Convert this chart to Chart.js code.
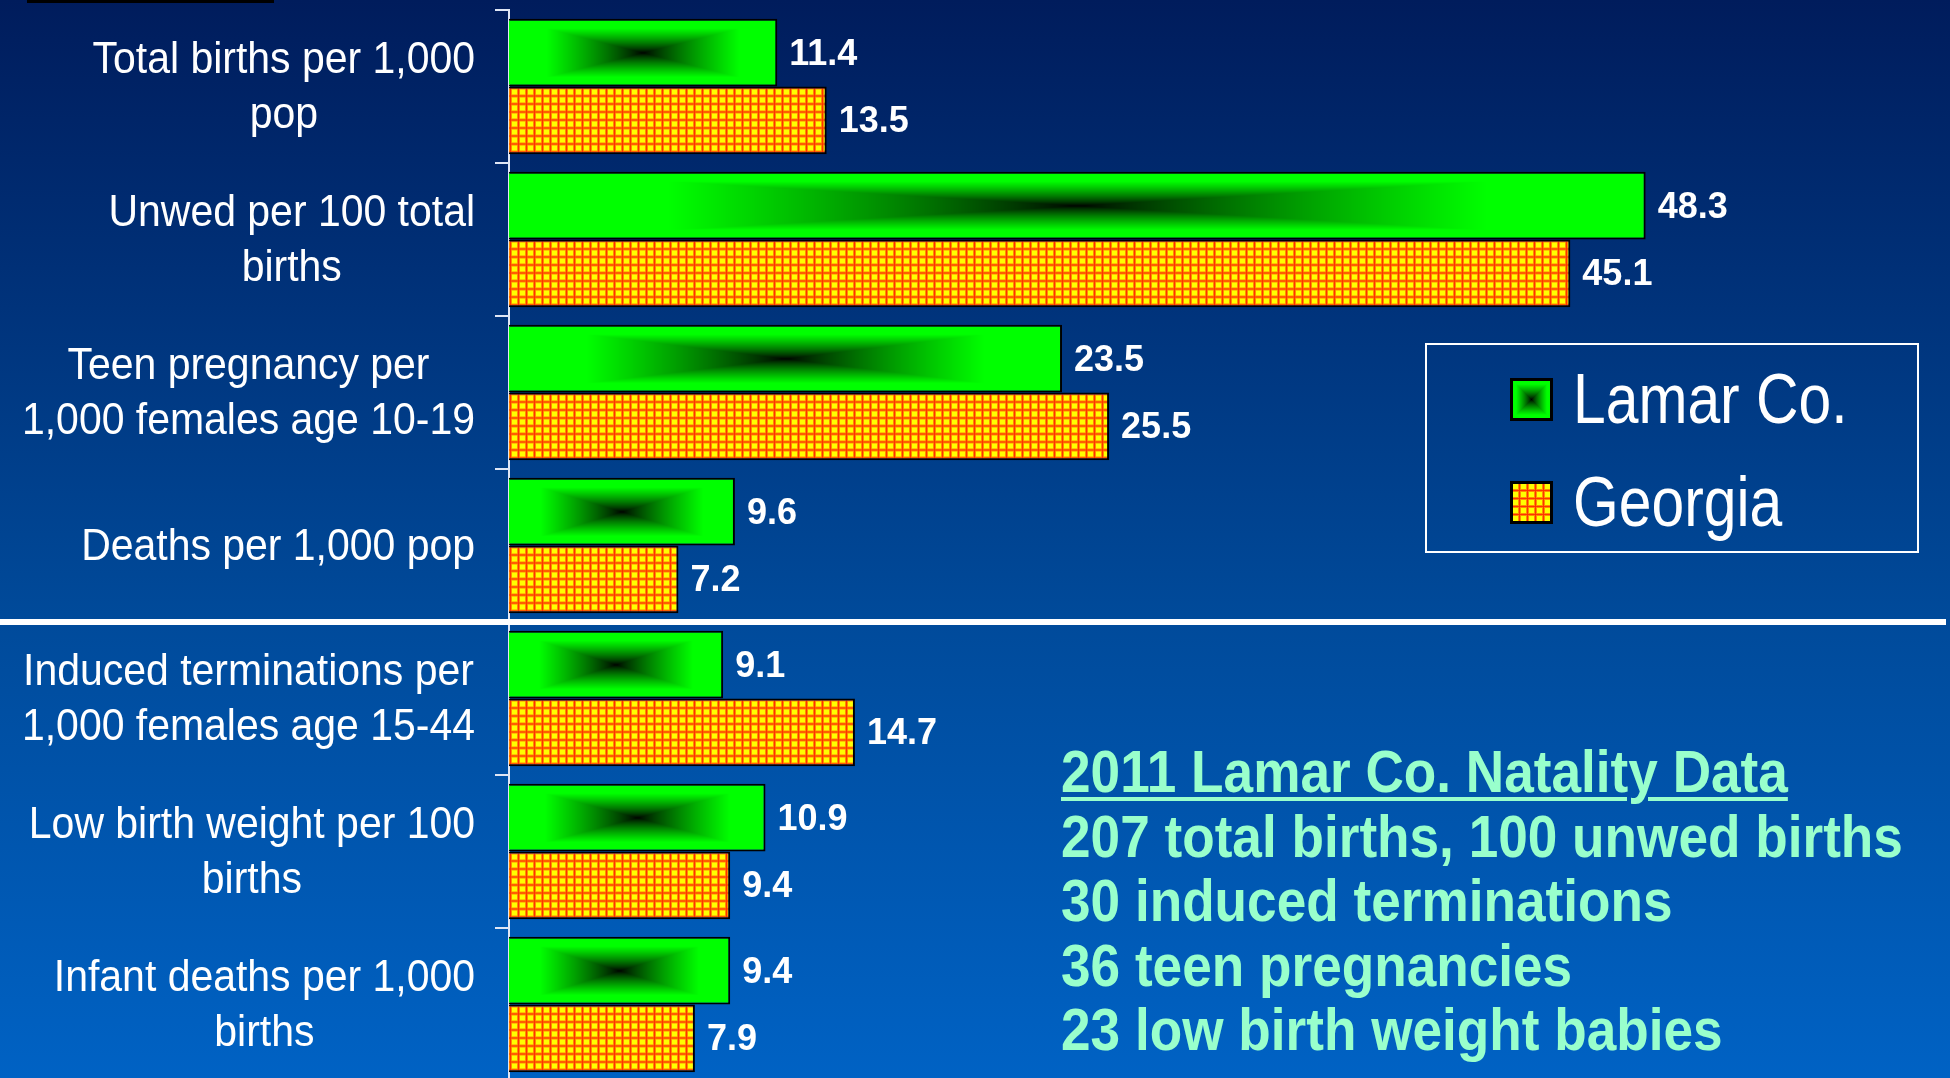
<!DOCTYPE html>
<html>
<head>
<meta charset="utf-8">
<script src="https://cdn.jsdelivr.net/npm/chart.js@4.4.1/dist/chart.umd.min.js"></script>
<style>
  html, body { margin: 0; padding: 0; width: 1950px; height: 1078px; overflow: hidden; }
  body {
    position: relative;
    background: linear-gradient(to bottom, #001c5c 0%, #004a9a 57%, #0062c4 100%);
    font-family: "Liberation Sans", Arial, sans-serif;
  }
  #chart { position: absolute; left: 0; top: 0; }
  .topbar { position: absolute; left: 27px; top: 0; width: 247px; height: 3px; background: #000; }
  .sep { position: absolute; left: 0; top: 619px; width: 1946px; height: 6px; background: #fff; }
  #legendBox { position: absolute; left: 1425px; top: 343px; width: 490px; height: 206px; border: 2px solid #fff; }
  .swatch { position: absolute; left: 1510px; }
  .legText {
    position: absolute; left: 1573px; color: #fff; font-size: 70px; line-height: 70px;
    white-space: nowrap; transform: scaleX(0.84); transform-origin: left top;
  }
  #note {
    position: absolute; left: 1061px; top: 740px; color: #99ffcc;
    font-weight: bold; font-size: 60px; line-height: 64.5px; white-space: nowrap;
    transform: scaleX(0.886); transform-origin: left top;
  }
  #note .head { text-decoration: underline; text-decoration-thickness: 4px; text-underline-offset: 5px; }
</style>
</head>
<body>
<canvas id="chart" width="1950" height="1090"></canvas>
<div class="topbar"></div>
<div class="sep"></div>
<div id="legendBox"></div>
<div id="legendItems"></div>
<div id="note"></div>

<script>
const categories = [
  ['Total births per 1,000', 'pop'],
  ['Unwed per 100 total', 'births'],
  ['Teen pregnancy per', '1,000 females age 10-19'],
  ['Deaths per 1,000 pop'],
  ['Induced terminations per', '1,000 females age 15-44'],
  ['Low birth weight per 100', 'births'],
  ['Infant deaths per 1,000', 'births'],
];
const seriesNames = ['Lamar Co.', 'Georgia'];
const lamarValues = [11.4, 48.3, 23.5, 9.6, 9.1, 10.9, 9.4];
const georgiaValues = [13.5, 45.1, 25.5, 7.2, 14.7, 9.4, 7.9];
const noteTitle = '2011 Lamar Co. Natality Data';
const noteLines = [
  '207 total births, 100 unwed births',
  '30 induced terminations',
  '36 teen pregnancies',
  '23 low birth weight babies',
];

// green box, black in the middle, fading out to the edges
function greenCanvas(w, h) {
  const c = document.createElement('canvas');
  c.width = w; c.height = h;
  const g = c.getContext('2d');
  const img = g.createImageData(w, h);
  for (let y = 0; y < h; y++) {
    for (let x = 0; x < w; x++) {
      const t = Math.max(Math.abs(x + 0.5 - w / 2) / (w / 2), Math.abs(y + 0.5 - h / 2) / (h / 2));
      const v = Math.pow(Math.min(1, t / 0.72), 0.8);
      const k = (y * w + x) * 4;
      img.data[k] = 0;
      img.data[k + 1] = Math.round(255 * v);
      img.data[k + 2] = 0;
      img.data[k + 3] = 255;
    }
  }
  g.putImageData(img, 0, 0);
  return c;
}

// yellow cells with orange-red lines
function gridTile() {
  const c = document.createElement('canvas');
  c.width = 8; c.height = 8;
  const g = c.getContext('2d');
  g.fillStyle = '#ffff00'; g.fillRect(0, 0, 8, 8);
  g.fillStyle = '#ff8c00'; g.fillRect(0, 0, 3, 8); g.fillRect(0, 0, 8, 3);
  g.fillStyle = '#ff3300'; g.fillRect(1, 0, 1, 8); g.fillRect(0, 1, 8, 1);
  return c;
}

const barFills = {
  id: 'barFills',
  beforeDatasetsDraw(chart) {
    const ctx = chart.ctx;
    chart.data.datasets.forEach((ds, di) => {
      chart.getDatasetMeta(di).data.forEach(bar => {
        const p = bar.getProps(['x', 'y', 'base', 'height'], true);
        const left = Math.min(p.x, p.base);
        const top = p.y - p.height / 2;
        const w = Math.max(1, Math.round(Math.abs(p.x - p.base)));
        const h = Math.max(1, Math.round(p.height));
        const pat = di === 0
          ? ctx.createPattern(greenCanvas(w, h), 'no-repeat')
          : ctx.createPattern(gridTile(), 'repeat');
        pat.setTransform(new DOMMatrix().translate(left, top));
        bar.options.backgroundColor = pat;
      });
    });
  }
};

const valueLabels = {
  id: 'valueLabels',
  afterDatasetsDraw(chart) {
    const ctx = chart.ctx;
    ctx.save();
    ctx.font = 'bold 36px "Liberation Sans", Arial, sans-serif';
    ctx.fillStyle = '#ffffff';
    ctx.textAlign = 'left';
    ctx.textBaseline = 'middle';
    chart.data.datasets.forEach((ds, di) => {
      chart.getDatasetMeta(di).data.forEach((bar, i) => {
        ctx.fillText(ds.data[i].toFixed(1), bar.x + 12, bar.y + 2);
      });
    });
    ctx.restore();
  }
};

// category names: block right-aligned to the axis, lines centred in the block
const catLabels = {
  id: 'catLabels',
  afterDraw(chart) {
    const ctx = chart.ctx;
    const ys = chart.scales.y;
    const sx = 0.91;
    ctx.save();
    ctx.font = '45px "Liberation Sans", Arial, sans-serif';
    ctx.fillStyle = '#ffffff';
    ctx.textAlign = 'center';
    ctx.textBaseline = 'alphabetic';
    categories.forEach((lines, i) => {
      const cy = ys.getPixelForValue(i);
      const widest = Math.max(...lines.map(l => ctx.measureText(l).width * sx));
      const cx = chart.chartArea.left - 34 - widest / 2;
      lines.forEach((line, j) => {
        const by = cy + (j - (lines.length - 1) / 2) * 55 + 14;
        ctx.save();
        ctx.translate(cx, by);
        ctx.scale(sx, 1);
        ctx.fillText(line, 0, 0);
        ctx.restore();
      });
    });
    ctx.restore();
  }
};

function buildLegend() {
  const box = document.getElementById('legendItems');
  const tops = [378, 481];
  seriesNames.forEach((name, i) => {
    const sw = document.createElement('canvas');
    sw.width = 43; sw.height = 43;
    sw.className = 'swatch';
    sw.style.top = tops[i] + 'px';
    const g = sw.getContext('2d');
    if (i === 0) {
      g.drawImage(greenCanvas(43, 43), 0, 0);
    } else {
      g.fillStyle = g.createPattern(gridTile(), 'repeat');
      g.fillRect(0, 0, 43, 43);
    }
    g.strokeStyle = '#000'; g.lineWidth = 3;
    g.strokeRect(1.5, 1.5, 40, 40);
    box.appendChild(sw);
    const t = document.createElement('div');
    t.className = 'legText';
    t.style.top = (tops[i] - 14) + 'px';
    t.textContent = name;
    box.appendChild(t);
  });
}

function buildNote() {
  const note = document.getElementById('note');
  const head = document.createElement('span');
  head.className = 'head';
  head.textContent = noteTitle;
  note.appendChild(head);
  noteLines.forEach(l => {
    note.appendChild(document.createElement('br'));
    note.appendChild(document.createTextNode(l));
  });
}

function createBarChart() {
  const ctx = document.getElementById('chart').getContext('2d');
  new Chart(ctx, {
    type: 'bar',
    data: {
      labels: categories,
      datasets: [
        {
          label: seriesNames[0],
          data: lamarValues,
          backgroundColor: () => '#00ff00',
          borderColor: '#000000',
          borderWidth: 2,
        },
        {
          label: seriesNames[1],
          data: georgiaValues,
          backgroundColor: () => '#ffff00',
          borderColor: '#000000',
          borderWidth: 2,
        },
      ],
    },
    options: {
      indexAxis: 'y',
      responsive: false,
      animation: false,
      devicePixelRatio: 1,
      layout: { padding: { top: 10, right: 29, bottom: 9, left: 0 } },
      datasets: { bar: { categoryPercentage: 0.885, barPercentage: 1.0 } },
      plugins: { legend: { display: false }, tooltip: { enabled: false } },
      scales: {
        x: { min: 0, max: 60, display: false },
        y: {
          offset: true,
          ticks: { display: false },
          grid: { drawOnChartArea: false, offset: true, tickLength: 14, color: '#dfe6f5', lineWidth: 2 },
          border: { color: '#dfe6f5', width: 2 },
          afterFit(scale) { scale.width = 509; },
        },
      },
    },
    plugins: [barFills, valueLabels, catLabels],
  });
}

document.addEventListener('DOMContentLoaded', () => {
  buildLegend();
  buildNote();
  createBarChart();
});
</script>
</body>
</html>
